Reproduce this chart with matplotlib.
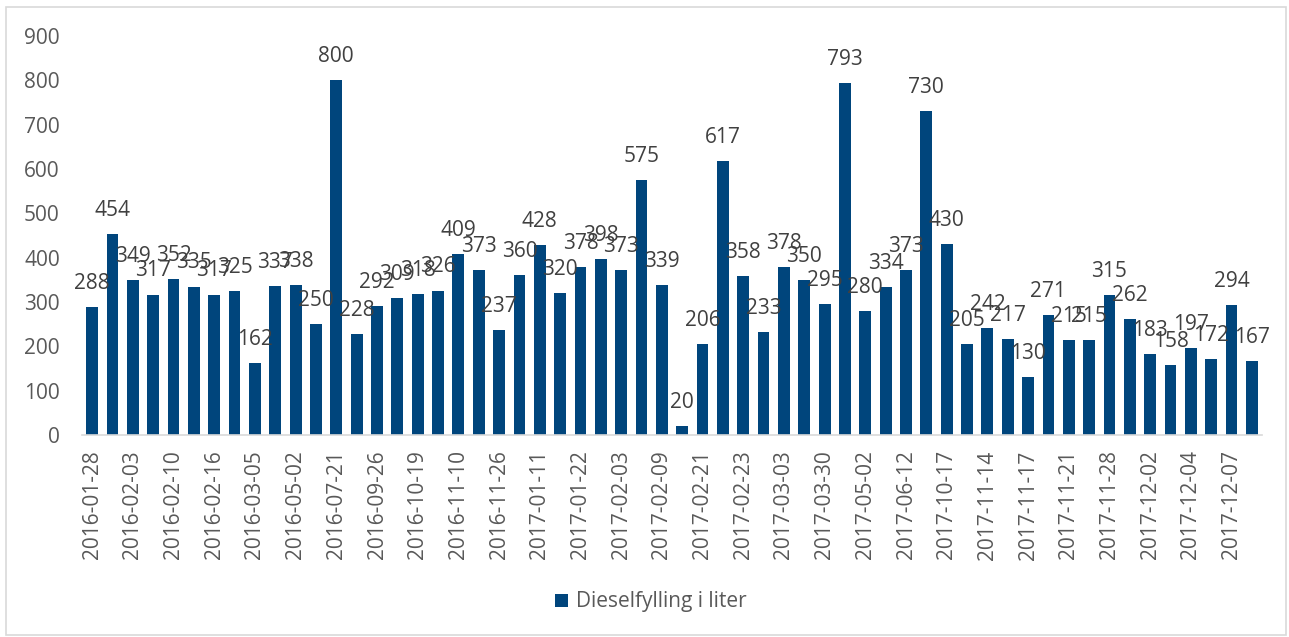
import matplotlib.pyplot as plt
from matplotlib.patches import Rectangle

# Diesel fill-ups (litres), one bar per date
dates = ['2016-01-28', '2016-02-01', '2016-02-03', '2016-02-07', '2016-02-10', '2016-02-13',
         '2016-02-16', '2016-02-24', '2016-03-05', '2016-04-10', '2016-05-02', '2016-06-15',
         '2016-07-21', '2016-08-30', '2016-09-26', '2016-10-05', '2016-10-19', '2016-10-30',
         '2016-11-10', '2016-11-18', '2016-11-26', '2016-12-20', '2017-01-11', '2017-01-16',
         '2017-01-22', '2017-01-28', '2017-02-03', '2017-02-06', '2017-02-09', '2017-02-15',
         '2017-02-21', '2017-02-22', '2017-02-23', '2017-02-26', '2017-03-03', '2017-03-15',
         '2017-03-30', '2017-04-15', '2017-05-02', '2017-05-20', '2017-06-12', '2017-08-01',
         '2017-10-17', '2017-11-01', '2017-11-14', '2017-11-15', '2017-11-17', '2017-11-19',
         '2017-11-21', '2017-11-25', '2017-11-28', '2017-11-30', '2017-12-02', '2017-12-03',
         '2017-12-04', '2017-12-05', '2017-12-07', '2017-12-09']
liters = [288, 454, 349, 317, 352, 335, 317, 325, 162, 337, 338, 250, 800, 228, 292, 309,
          318, 326, 409, 373, 237, 360, 428, 320, 378, 398, 373, 575, 339, 20, 206, 617,
          358, 233, 378, 350, 295, 793, 280, 334, 373, 730, 430, 205, 242, 217, 130, 271,
          215, 215, 315, 262, 183, 158, 197, 172, 294, 167]
yticks = [0, 100, 200, 300, 400, 500, 600, 700, 800, 900]

bar_color = '#00457C'
font = ['Open Sans', 'DejaVu Sans']
plt.rcParams['font.family'] = font

fig = plt.figure(figsize=(12.89, 6.37), dpi=100)
ax = fig.add_axes([0.0636, 0.317, 0.9155, 0.6265])

x = list(range(len(liters)))
bars = ax.bar(x, liters, width=0.58, color=bar_color, label='Dieselfylling i liter')

for xi, v in zip(x, liters):
    ax.annotate(str(v), (xi, v), xytext=(0, 13), textcoords='offset points',
                ha='center', va='baseline', fontsize=15, color='#404040')

ax.set_xlim(-0.5, len(liters) - 0.5)
ax.set_ylim(0, 900)
ax.set_yticks(yticks)
ax.set_yticklabels([str(t) for t in yticks], fontsize=15, color='#595959')
ax.set_xticks(x[::2])
ax.set_xticklabels(dates[::2], rotation=90, fontsize=15, color='#595959')
ax.tick_params(axis='both', length=0)
ax.tick_params(axis='x', pad=11)
ax.tick_params(axis='y', pad=16)

for side in ['top', 'right', 'left']:
    ax.spines[side].set_visible(False)
ax.spines['bottom'].set_color('#D9D9D9')
ax.spines['bottom'].set_linewidth(1.2)

fig.legend(handles=[bars], loc='center', bbox_to_anchor=(0.505, 0.055), frameon=False,
           fontsize=15, labelcolor='#595959', handlelength=0.6, handleheight=0.6,
           handletextpad=0.4)

fig.patches.append(Rectangle((0.005, 0.003), 0.993, 0.986, transform=fig.transFigure,
                             fill=False, edgecolor='#D9D9D9', linewidth=1.2))

fig.savefig('out.png', dpi=100)
